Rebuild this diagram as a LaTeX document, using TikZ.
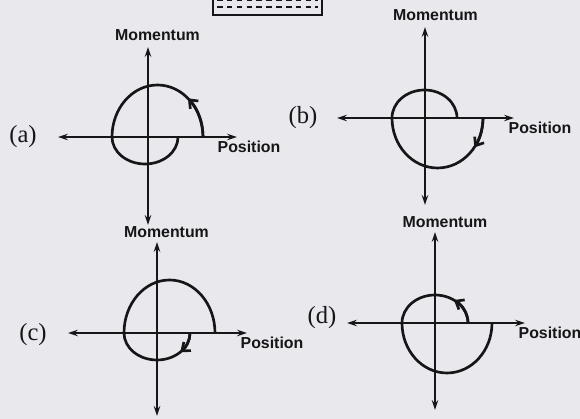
\documentclass[tikz,border=0pt]{standalone}
\usepackage{fontspec}
\setmainfont{Liberation Serif}
\setsansfont{Liberation Sans}
\usetikzlibrary{arrows.meta}

\definecolor{paper}{RGB}{233,233,237}
\definecolor{ink}{RGB}{22,22,24}

\begin{document}
\begin{tikzpicture}[
x=0.025cm, y=0.025cm,
phaseaxis/.style={draw=ink, line width=1.5pt, {Stealth[length=7pt,width=4.5pt]}-{Stealth[length=7pt,width=4.5pt]}},
orbit/.style={draw=ink, line width=1.9pt},
spin/.style={orbit, -{Straight Barb[length=5pt,width=8pt]}},
varname/.style={font=\sffamily\bfseries\fontsize{11.3}{13}\selectfont, text=ink, inner sep=0pt},
tag/.style={font=\fontsize{17.5}{19}\selectfont, text=ink, inner sep=0pt}
]

\path[use as bounding box, fill=paper] (0,0) rectangle (580,419);

% box left over from the figure above
\draw[ink, line width=1.8pt] (213,421) |- (322,404) -- (322,421);
\draw[ink, line width=1.3pt, dash pattern=on 4pt off 3pt] (217,412) -- (318,412);
\draw[ink, line width=1.3pt, dash pattern=on 4pt off 3pt] (217,418.5) -- (318,418.5);

% (a)
\begin{scope}[shift={(148,282)}]
\draw[phaseaxis] (0,90) -- (0,-88);
\draw[phaseaxis] (-90,0) -- (89,0);
\draw[orbit] (55,0) arc[start angle=0, end angle=180, x radius=45.5, y radius=52]
  arc[start angle=180, end angle=360, x radius=33, y radius=27];
\draw[spin] (55,0) arc[start angle=0, end angle=48, x radius=45.5, y radius=52];
\node[varname] (momA) at (9.5,102) {Momentum};
\node[varname] (posA) at (101,-10) {Position};
\node[tag] (tagA) at (-125,0) {(a)};
\end{scope}

% (b)
\begin{scope}[shift={(425,301)}]
\draw[phaseaxis] (0,91) -- (0,-87);
\draw[phaseaxis] (-88,0) -- (89,0);
\draw[orbit] (32,0) arc[start angle=0, end angle=180, x radius=32.5, y radius=28]
  arc[start angle=180, end angle=360, x radius=45.5, y radius=50];
\draw[spin] (58,0) arc[start angle=0, end angle=-36, x radius=45.5, y radius=50];
\node[varname] (momB) at (10.5,103) {Momentum};
\node[varname] (posB) at (115,-10) {Position};
\node[tag] (tagB) at (-122,0) {(b)};
\end{scope}

% (c)
\begin{scope}[shift={(157,86)}]
\draw[phaseaxis] (0,91) -- (0,-83);
\draw[phaseaxis] (-89,0) -- (90,0);
\draw[orbit] (58,0) arc[start angle=0, end angle=180, x radius=45.5, y radius=53]
  arc[start angle=180, end angle=360, x radius=33, y radius=27];
\draw[spin] (33,0) arc[start angle=0, end angle=-45, x radius=33, y radius=27];
\node[varname] (momC) at (9.5,101) {Momentum};
\node[varname] (posC) at (115,-10) {Position};
\node[tag] (tagC) at (-124,-2) {(c)};
\end{scope}

% (d)
\begin{scope}[shift={(435,96)}]
\draw[phaseaxis] (0,91) -- (0,-87);
\draw[phaseaxis] (-88,0) -- (90,0);
\draw[orbit] (33,0) arc[start angle=0, end angle=180, x radius=33, y radius=28]
  arc[start angle=180, end angle=360, x radius=45, y radius=50];
\draw[spin] (33,0) arc[start angle=0, end angle=55, x radius=33, y radius=28];
\node[varname] (momD) at (10,101) {Momentum};
\node[varname] (posD) at (115,-10) {Position};
\node[tag] (tagD) at (-113,5) {(d)};
\end{scope}

\end{tikzpicture}
\end{document}
